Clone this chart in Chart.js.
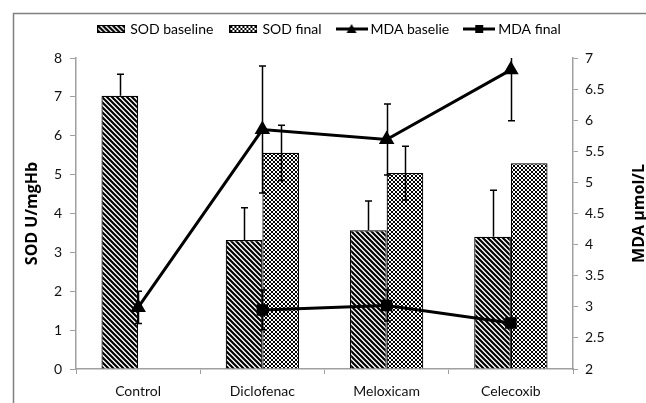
<!DOCTYPE html>
<html>
<head>
<meta charset="utf-8">
<script src="https://cdn.jsdelivr.net/npm/chart.js@4/dist/chart.umd.min.js"></script>
<style>
  body { margin: 0; background: #fff; }
  canvas { display: block; }
</style>
</head>
<body>
<canvas id="chart" width="646" height="403"></canvas>
<script>
// Data
const categories = ['Control', 'Diclofenac', 'Meloxicam', 'Celecoxib'];

const sodBaseline = [7.03, 3.32, 3.57, 3.40];
const sodBaselineErr = [0.55, 0.83, 0.75, 1.20];
const sodFinal = [null, 5.56, 5.04, 5.29];
const sodFinalErr = [null, 0.71, 0.69, 0];

const mdaBaseline = [2.99, 5.85, 5.69, 6.81];
const mdaBaselineErr = [0.26, 1.02, 0.57, 0.82];
const mdaFinal = [null, 2.95, 3.02, 2.74];
const mdaFinalErr = [null, 0.32, 0.25, 0];

const legendLabels = ['SOD baseline', 'SOD final', 'MDA baselie', 'MDA final'];
const leftTitle = 'SOD U/mgHb';
const rightTitle = 'MDA \u00b5mol/L';

const FONT = 'Lato, "Open Sans", sans-serif';

// Fill patterns for the bars
const makeHatch = () => {
    const c = document.createElement('canvas');
    c.width = 5; c.height = 5;
    const g = c.getContext('2d');
    g.fillStyle = '#fff';
    g.fillRect(0, 0, 5, 5);
    g.strokeStyle = '#000';
    g.lineWidth = 2.2;
    g.beginPath();
    g.moveTo(-1, -1); g.lineTo(6, 6);
    g.moveTo(-1, 4); g.lineTo(1, 6);
    g.moveTo(4, -1); g.lineTo(6, 1);
    g.stroke();
    return g.createPattern(c, 'repeat');
};

const makeCross = () => {
    const c = document.createElement('canvas');
    c.width = 4; c.height = 4;
    const g = c.getContext('2d');
    g.fillStyle = '#fff';
    g.fillRect(0, 0, 4, 4);
    g.strokeStyle = '#000';
    g.lineWidth = 1;
    g.beginPath();
    g.moveTo(0, 0); g.lineTo(4, 4);
    g.moveTo(4, 0); g.lineTo(0, 4);
    g.stroke();
    return g.createPattern(c, 'repeat');
};

const hatch = makeHatch();
const cross = makeCross();

// Legend symbols
const barSymbol = fill => {
    const c = document.createElement('canvas');
    c.width = 28; c.height = 8;
    const g = c.getContext('2d');
    g.fillStyle = fill;
    g.fillRect(0.5, 0.5, 27, 7);
    g.strokeStyle = '#000';
    g.lineWidth = 1;
    g.strokeRect(0.5, 0.5, 27, 7);
    return c;
};

const lineSymbol = marker => {
    const c = document.createElement('canvas');
    c.width = 32; c.height = 12;
    const g = c.getContext('2d');
    g.strokeStyle = '#000';
    g.lineWidth = 3;
    g.beginPath();
    g.moveTo(0, 6); g.lineTo(32, 6);
    g.stroke();
    g.fillStyle = '#000';
    if (marker === 'triangle') {
        g.beginPath();
        g.moveTo(16, 1); g.lineTo(21, 10); g.lineTo(11, 10);
        g.closePath();
        g.fill();
    } else {
        g.fillRect(12, 2, 8, 8);
    }
    return c;
};

const legendSymbols = [barSymbol(hatch), barSymbol(cross), lineSymbol('triangle'), lineSymbol('rect')];

// Error bars, drawn through the dataset's own scale
const errorBars = {
    id: 'errorBars',
    afterDatasetDraw(chart, args) {
        const ds = chart.data.datasets[args.index];
        if (!ds.errors) return;
        const scale = chart.scales[ds.yAxisID || 'y'];
        const area = chart.chartArea;
        const ctx = chart.ctx;
        ctx.save();
        ctx.beginPath();
        ctx.rect(area.left, area.top, area.right - area.left, area.bottom - area.top);
        ctx.clip();
        ctx.strokeStyle = '#000';
        ctx.lineWidth = 1.5;
        args.meta.data.forEach((el, i) => {
            const v = ds.data[i];
            const e = ds.errors[i];
            if (v == null || !e) return;
            const x = Math.round(el.x) + 0.5;
            const top = scale.getPixelForValue(v + e);
            const bottom = scale.getPixelForValue(ds.plusOnly ? v : v - e);
            ctx.beginPath();
            ctx.moveTo(x, top); ctx.lineTo(x, bottom);
            ctx.moveTo(x - 3.5, top); ctx.lineTo(x + 3.5, top);
            if (!ds.plusOnly) {
                ctx.moveTo(x - 3.5, bottom); ctx.lineTo(x + 3.5, bottom);
            }
            ctx.stroke();
        });
        ctx.restore();
    }
};

// Frame, background and axis titles
const decorations = {
    id: 'decorations',
    beforeInit(chart) {
        const fit = chart.legend.fit;
        chart.legend.fit = function () {
            fit.call(this);
            this.height += 12;
        };
    },
    beforeDraw(chart) {
        const ctx = chart.ctx;
        ctx.save();
        ctx.fillStyle = '#fff';
        ctx.fillRect(0, 0, chart.width, chart.height);
        ctx.strokeStyle = '#808080';
        ctx.lineWidth = 1.5;
        ctx.beginPath();
        ctx.moveTo(13.5, chart.height);
        ctx.lineTo(13.5, 13.5);
        ctx.lineTo(chart.width, 13.5);
        ctx.stroke();
        ctx.restore();
    },
    afterDraw(chart) {
        const ctx = chart.ctx;
        const area = chart.chartArea;
        const midY = (area.top + area.bottom) / 2;
        ctx.save();
        ctx.fillStyle = '#000';
        ctx.font = 'bold 16px "Open Sans", sans-serif';
        ctx.textAlign = 'center';
        ctx.textBaseline = 'middle';
        [[32, leftTitle], [639, rightTitle]].forEach(([x, text]) => {
            ctx.save();
            ctx.translate(x, midY);
            ctx.rotate(-Math.PI / 2);
            ctx.fillText(text, 0, 0);
            ctx.restore();
        });
        ctx.restore();
    }
};

const axisGrey = '#a0a0a0';

new Chart(document.getElementById('chart'), {
    type: 'bar',
    data: {
        labels: categories,
        datasets: [
            {
                label: legendLabels[0],
                data: sodBaseline,
                errors: sodBaselineErr,
                plusOnly: true,
                backgroundColor: hatch,
                borderColor: '#000',
                borderWidth: 1.2,
                yAxisID: 'y',
                order: 2,
                categoryPercentage: 0.59,
                barPercentage: 1
            },
            {
                label: legendLabels[1],
                data: sodFinal,
                errors: sodFinalErr,
                backgroundColor: cross,
                borderColor: '#000',
                borderWidth: 1.2,
                yAxisID: 'y',
                order: 2,
                categoryPercentage: 0.59,
                barPercentage: 1
            },
            {
                type: 'line',
                label: legendLabels[2],
                data: mdaBaseline,
                errors: mdaBaselineErr,
                borderColor: '#000',
                backgroundColor: '#000',
                borderWidth: 3,
                pointStyle: 'triangle',
                pointRadius: 6,
                yAxisID: 'y1',
                order: 1
            },
            {
                type: 'line',
                label: legendLabels[3],
                data: mdaFinal,
                errors: mdaFinalErr,
                borderColor: '#000',
                backgroundColor: '#000',
                borderWidth: 3,
                pointStyle: 'rect',
                pointRadius: 6,
                yAxisID: 'y1',
                order: 1
            }
        ]
    },
    options: {
        responsive: false,
        animation: false,
        devicePixelRatio: 1,
        layout: { padding: { left: 14, right: 0, top: 4, bottom: 0 } },
        plugins: {
            tooltip: { enabled: false },
            legend: {
                position: 'top',
                labels: {
                    usePointStyle: true,
                    pointStyleWidth: 24,
                    padding: 18,
                    color: '#000',
                    font: { family: FONT, size: 14 },
                    sort: (a, b) => a.datasetIndex - b.datasetIndex,
                    generateLabels: chart => chart.data.datasets.map((ds, i) => ({
                        text: ds.label,
                        pointStyle: legendSymbols[i],
                        datasetIndex: i,
                        fontColor: '#000',
                        lineWidth: 0,
                        hidden: false
                    }))
                }
            }
        },
        scales: {
            x: {
                grid: { drawOnChartArea: false, offset: true, tickLength: 5, color: axisGrey },
                border: { color: axisGrey, width: 1.5 },
                ticks: { color: '#111', font: { family: FONT, size: 14 }, padding: 9 },
                afterFit: s => { s.height = 34; }
            },
            y: {
                position: 'left',
                min: 0,
                max: 8,
                grid: { drawOnChartArea: false, tickLength: 6, color: axisGrey },
                border: { color: axisGrey, width: 1.5 },
                ticks: { stepSize: 1, color: '#111', font: { family: FONT, size: 14 }, padding: 8 },
                afterFit: s => { s.width = 62; }
            },
            y1: {
                position: 'right',
                min: 2,
                max: 7,
                grid: { drawOnChartArea: false, tickLength: 5, color: axisGrey },
                border: { color: axisGrey, width: 1.5 },
                ticks: {
                    stepSize: 0.5,
                    color: '#111',
                    font: { family: FONT, size: 14 },
                    padding: 7,
                    callback: v => String(v)
                },
                afterFit: s => { s.width = 73; }
            }
        }
    },
    plugins: [errorBars, decorations]
});
</script>
</body>
</html>
